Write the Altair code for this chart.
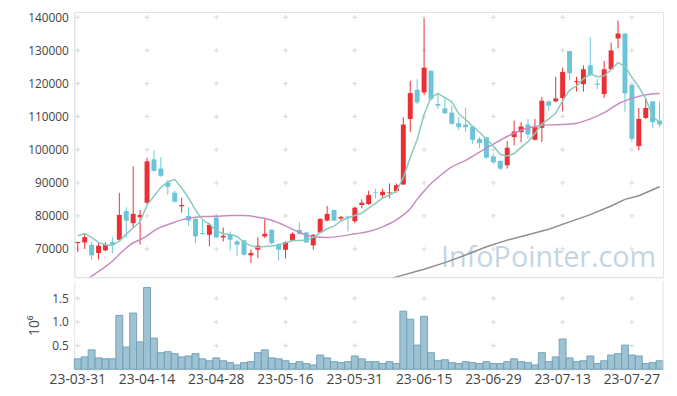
import altair as alt
import pandas as pd

dates = ["23-03-31",
         "23-04-03", "23-04-04", "23-04-05", "23-04-06", "23-04-07",
         "23-04-10", "23-04-11", "23-04-12", "23-04-13", "23-04-14",
         "23-04-17", "23-04-18", "23-04-19", "23-04-20", "23-04-21",
         "23-04-24", "23-04-25", "23-04-26", "23-04-27", "23-04-28",
         "23-05-02", "23-05-03", "23-05-04",
         "23-05-08", "23-05-09", "23-05-10", "23-05-11", "23-05-12",
         "23-05-15", "23-05-16", "23-05-17", "23-05-18", "23-05-19",
         "23-05-22", "23-05-23", "23-05-24", "23-05-25", "23-05-26",
         "23-05-30", "23-05-31",
         "23-06-01", "23-06-02", "23-06-05",
         "23-06-07", "23-06-08", "23-06-09",
         "23-06-12", "23-06-13", "23-06-14", "23-06-15", "23-06-16",
         "23-06-19", "23-06-20", "23-06-21", "23-06-22", "23-06-23",
         "23-06-26", "23-06-27", "23-06-28", "23-06-29", "23-06-30",
         "23-07-03", "23-07-04", "23-07-05", "23-07-06", "23-07-07",
         "23-07-10", "23-07-11", "23-07-12", "23-07-13", "23-07-14",
         "23-07-17", "23-07-18", "23-07-19", "23-07-20", "23-07-21",
         "23-07-24", "23-07-25", "23-07-26", "23-07-27", "23-07-28",
         "23-07-31", "23-08-01", "23-08-02"]

opens = [71800, 72000, 71300, 68800, 69600, 72100, 72800, 81500, 77800, 79600,
         84000, 97100, 94300, 90000, 87000, 82900, 80000, 79100, 74800, 74300,
         79500, 73500, 74500, 72300, 72600, 68100, 69800, 73800, 75800, 71500,
         69800, 72600, 75800, 75000, 71100, 75000, 78600, 81800, 79200, 79800,
         78400, 83300, 83600, 87100, 86300, 86900, 87500, 89500, 109300, 118100,
         117300, 123800, 113800, 112500, 111200, 108000, 107600, 107000, 103200, 103700,
         98000, 96600, 95300, 103800, 105300, 107600, 103000, 106600, 114600, 114600,
         115600, 129800, 120400, 119800, 125500, 120000, 116800, 124300, 133600, 135100,
         119600, 101100, 109600, 114600, 108800]
highs = [72200, 74800, 72100, 71800, 72000, 73600, 87000, 82600, 95000, 81800,
         97600, 99800, 97800, 90800, 87600, 85500, 82600, 79300, 79000, 77800,
         80300, 76500, 75300, 72800, 72800, 69800, 73600, 79000, 76000, 71800,
         72300, 75000, 78100, 75300, 74500, 79300, 83000, 82000, 80000, 80100,
         82800, 85000, 87600, 88300, 88200, 89800, 89800, 109800, 120800, 121300,
         139600, 124000, 117300, 115500, 113300, 109800, 112800, 107200, 103800, 103900,
         98800, 96800, 102600, 108800, 108300, 109300, 109300, 115900, 114800, 122000,
         124800, 129800, 122000, 125500, 133800, 121300, 126800, 132300, 139000, 135100,
         119600, 112600, 115600, 114600, 114600]
lows = [69100, 70000, 66800, 66800, 69300, 68800, 72500, 73300, 76300, 71300,
        83600, 93400, 91800, 86300, 84000, 81000, 77000, 71800, 74300, 70800,
        73300, 72300, 69500, 68000, 68000, 65800, 67300, 73300, 71300, 66500,
        67100, 72300, 74300, 71800, 69800, 74800, 78300, 78500, 78500, 75300,
        77800, 82300, 83300, 85300, 85300, 85300, 87000, 89300, 105300, 113800,
        116500, 114800, 112300, 110800, 107600, 106000, 105300, 101800, 100500, 97300,
        95700, 93800, 94300, 101300, 102300, 103300, 102800, 102300, 111800, 114300,
        111600, 120900, 117600, 117500, 122300, 118300, 115600, 124000, 130600, 111500,
        102300, 99800, 109300, 106600, 106800]
closes = [72100, 73600, 68100, 71000, 71300, 71300, 80300, 78600, 80600, 80300,
          96500, 93600, 92100, 88800, 84300, 83300, 78600, 73800, 74500, 77300,
          73500, 74000, 72800, 71300, 68300, 68800, 71000, 74600, 71800, 69800,
          72100, 74600, 74600, 72000, 74300, 79100, 80600, 78600, 79700, 79300,
          82500, 84000, 86300, 86900, 87300, 87100, 89300, 107600, 117100, 114300,
          124800, 115300, 113300, 111000, 107800, 106800, 106800, 103000, 102000, 97600,
          96200, 94300, 100600, 105500, 107000, 104600, 106800, 114800, 113300, 115500,
          123500, 123100, 120700, 124300, 122600, 119600, 124300, 130000, 135100, 117000,
          103300, 109300, 112600, 108300, 107600]
volumes = [220000, 260000, 410000, 240000, 220000, 220000, 1140000, 470000, 1190000, 580000,
           1730000, 660000, 350000, 370000, 330000, 260000, 280000, 330000, 220000, 180000,
           240000, 180000, 140000, 90000, 140000, 160000, 350000, 410000, 240000, 220000,
           180000, 120000, 160000, 120000, 90000, 300000, 240000, 160000, 140000, 160000,
           280000, 220000, 160000, 160000, 120000, 160000, 120000, 1230000, 1060000, 510000,
           1120000, 350000, 180000, 200000, 140000, 120000, 160000, 140000, 120000, 160000,
           120000, 120000, 160000, 220000, 160000, 140000, 90000, 350000, 160000, 260000,
           640000, 240000, 160000, 180000, 280000, 120000, 180000, 300000, 330000, 510000,
           300000, 280000, 120000, 140000, 180000]
ma5 = [74000, 74700, 73500, 72000, 71220, 71060, 72400, 74500, 76420, 78220,
       83260, 85920, 88620, 90260, 91060, 88420, 85420, 81760, 78900, 77500,
       75540, 74620, 74420, 73780, 71980, 71040, 70440, 70800, 70900, 71200,
       71860, 72580, 72580, 72620, 73520, 74920, 76120, 76920, 78460, 79460,
       80140, 80820, 82360, 83800, 85400, 86320, 87380, 91640, 97680, 103080,
       110620, 115820, 116960, 115740, 114440, 110840, 109140, 107080, 105280, 103240,
       101120, 98620, 98140, 98840, 100720, 102400, 104900, 107740, 109300, 111000,
       114780, 118040, 119220, 121420, 122840, 122060, 122300, 124160, 126320, 125200,
       121940, 118940, 115460, 110100, 108220]
ma20_at = [0, 2, 4, 5, 6, 7, 8, 9, 10, 11, 12, 13, 14, 15, 16, 17, 18, 20, 22, 24,
           26, 28, 30, 31, 32, 33, 34, 36, 38, 40, 42, 44, 46, 47, 48, 49, 50, 51, 52, 54,
           56, 58, 60, 62, 64, 66, 68, 70, 72, 74, 76, 77, 78, 80, 82, 84]
ma20_val = [58800, 61800, 64700, 66300, 68400, 70300, 71900, 72800, 74000, 75500,
            76600, 77400, 78100, 78800, 79300, 79600, 79800, 79900, 80100, 80100,
            79600, 78700, 77000, 76000, 75000, 74200, 73700, 73500, 73900, 74600,
            75300, 76700, 78800, 80300, 82200, 85000, 87500, 89800, 91600, 94800,
            96800, 99300, 101700, 104000, 105900, 107000, 107500, 107600, 108000, 109300,
            111200, 112500, 113800, 115500, 116600, 117000]
ma60_at = [44, 46, 50, 53, 56, 59, 62, 65, 68, 71, 74, 77, 79, 81, 84]
ma60_val = [60300, 61600, 63900, 65900, 68200, 70700, 72700, 74300, 76000, 78200,
            80400, 83000, 85000, 86100, 88800]

tick_dates = ["23-03-31", "23-04-14", "23-04-28", "23-05-16", "23-05-31",
              "23-06-15", "23-06-29", "23-07-13", "23-07-27"]
price_ticks = [70000, 80000, 90000, 100000, 110000, 120000, 130000, 140000]
vol_ticks = [500000, 1000000, 1500000]
watermark = ["InfoPointer.com"]

UP, DOWN = "#ec2f35", "#6cc4d9"
GRID = "#d9d9d9"
FRAME = "#e3e3e3"
FONT = "Open Sans"

df = pd.DataFrame({"date": dates, "open": opens, "high": highs, "low": lows,
                   "close": closes, "volume": volumes, "ma5": ma5})
df["dir"] = ["up" if c >= o else "down" for o, c in zip(opens, closes)]
ma20_df = pd.DataFrame({"date": [dates[i] for i in ma20_at], "v": ma20_val})
ma60_df = pd.DataFrame({"date": [dates[i] for i in ma60_at], "v": ma60_val})
cross_price = pd.DataFrame([(d, p) for d in tick_dates for p in price_ticks],
                           columns=["date", "p"])
cross_vol = pd.DataFrame([(d, v) for d in tick_dates for v in vol_ticks],
                         columns=["date", "v"])

W, H1, H2 = 595, 268, 89
xscale = alt.Scale(type="band", domain=dates, paddingInner=0, paddingOuter=0)
pscale = alt.Scale(domain=[61500, 141600], nice=False, zero=False)
vscale = alt.Scale(domain=[0, 1866000], nice=False)
color = alt.Color("dir:N", scale=alt.Scale(domain=["up", "down"], range=[UP, DOWN]),
                  legend=None)

x_hidden = alt.X("date:N", scale=xscale,
                 axis=alt.Axis(labels=False, ticks=False, title=None, grid=False,
                               domainColor=FRAME))
y_price_axis = alt.Axis(values=price_ticks, format="d", title=None, ticks=False,
                        tickSize=0, grid=False, labelPadding=6, domainColor=FRAME,
                        labelOverlap=False)


def py(field):
    return alt.Y(field, scale=pscale, axis=y_price_axis)


cross_shape = "M-1,0L1,0M0,-1L0,1"

crosses = alt.Chart(cross_price).mark_point(
    shape=cross_shape, size=25, filled=False, stroke=GRID, strokeWidth=1, opacity=1
).encode(x=x_hidden, y=py("p:Q"))

wm = alt.Chart(pd.DataFrame({"t": watermark})).mark_text(
    align="right", baseline="alphabetic", fontSize=29, font=FONT,
    color="#c3d5e1"
).encode(text="t:N", x=alt.value(588), y=alt.value(258))

wicks = alt.Chart(df).mark_rule(strokeWidth=1).encode(
    x=x_hidden, y=py("low:Q"), y2="high:Q", color=color)
bodies = alt.Chart(df).mark_bar(size=5).encode(
    x=x_hidden, y=py("open:Q"), y2="close:Q", color=color)

ma60_line = alt.Chart(ma60_df).mark_line(color="#8e8e8e", strokeWidth=1.5, clip=True).encode(
    x=x_hidden, y=py("v:Q"))
ma20_line = alt.Chart(ma20_df).mark_line(color="#c98cc0", strokeWidth=1.5, clip=True,
                                          interpolate="monotone").encode(
    x=x_hidden, y=py("v:Q"))
ma5_line = alt.Chart(df).mark_line(color="#88cbbd", strokeWidth=1.5, clip=True).encode(
    x=x_hidden, y=py("ma5:Q"))

main = alt.layer(crosses, wm, wicks, bodies, ma60_line, ma20_line, ma5_line).properties(
    width=W, height=H1)

x_vol = alt.X("date:N", scale=xscale,
              axis=alt.Axis(values=tick_dates, labelAngle=0, ticks=False, tickSize=0,
                            title=None, grid=False, labelFontSize=14, labelPadding=3,
                            domainColor=FRAME))
y_vol_axis = alt.Axis(values=vol_ticks, labelExpr="format(datum.value / 1000000, '.1f')",
                      title="10⁶", titleFontSize=14, titleFontWeight="normal",
                      titleColor="#444", titleFont=FONT, titlePadding=10,
                      ticks=False, tickSize=0, grid=False, labelPadding=6,
                      domainColor=FRAME, labelOverlap=False)

vcross = alt.Chart(cross_vol).mark_point(
    shape=cross_shape, size=25, filled=False, stroke=GRID, strokeWidth=1, opacity=1
).encode(x=x_vol, y=alt.Y("v:Q", scale=vscale, axis=y_vol_axis))
vbars = alt.Chart(df).mark_bar(color="#98bfd0", stroke="#6f9fb8", strokeWidth=1,
                                opacity=0.95).encode(
    x=x_vol, y=alt.Y("volume:Q", scale=vscale, axis=y_vol_axis))
vframe = alt.Chart(pd.DataFrame({"t": watermark})).mark_rule(color=FRAME).encode(
    x=alt.value(W), y=alt.value(0), y2=alt.value(H2))

vol = alt.layer(vcross, vbars, vframe).properties(
    width=W, height=H2, view=alt.ViewBackground(stroke="transparent"))

chart = alt.vconcat(main, vol, spacing=2).properties(
    padding={"left": 19, "top": 0, "right": 5, "bottom": 2}
).configure_view(stroke=FRAME).configure_axis(
    labelFont=FONT, labelFontSize=12, labelColor="#444"
)

chart.save("out.html", embed_options={"renderer": "svg", "actions": False})
